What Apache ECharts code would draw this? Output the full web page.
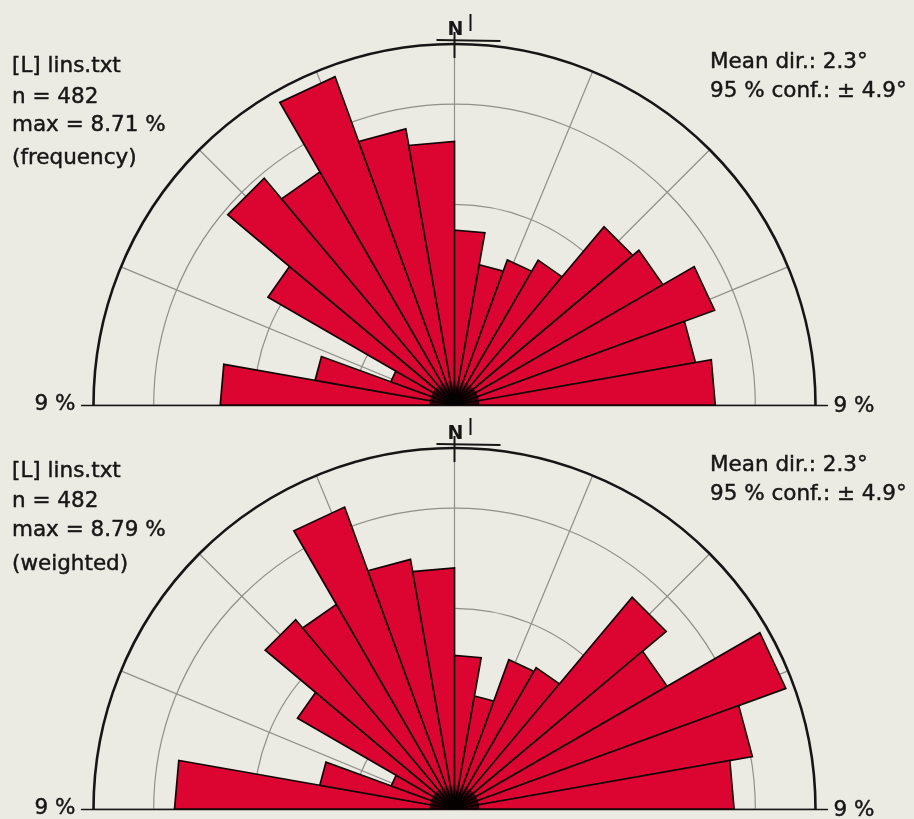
<!DOCTYPE html>
<html>
<head>
<meta charset="utf-8">
<title>lins.txt rose diagrams</title>
<script src="https://cdn.jsdelivr.net/npm/echarts@6/dist/echarts.min.js"></script>
<style>
  html, body { margin: 0; padding: 0; background: #ecebe3; }
  #chart { width: 914px; height: 819px; }
</style>
</head>
<body>
<div id="chart"></div>
<script>
// 10° direction bins, west (-90) through north (0) to east (+90): start of each bin
const binStarts = [-90, -80, -70, -60, -50, -40, -30, -20, -10,
                   0, 10, 20, 30, 40, 50, 60, 70, 80];
const binWidth = 10;

// percentage of lineations per bin, frequency rose
const frequencyPct = [5.84, 3.53, 1.69, 5.37, 7.38, 6.71, 8.71, 6.99, 6.57,
                      4.36, 3.55, 3.85, 4.17, 5.80, 6.00, 6.90, 6.10, 6.50];

// percentage per bin, length-weighted rose
const weightedPct = [6.98, 3.41, 1.68, 4.52, 6.16, 5.89, 8.01, 6.32, 6.01,
                     3.83, 2.86, 3.96, 4.07, 6.89, 6.12, 8.79, 7.54, 6.97];

// radial scale (percent) and grid spacing
const scaleMax = 9;
const ringStep = 2.5;
const spokeStep = 22.5;
const scaleLabel = '9 %';

// header texts
const headerFrequency = ['[L] lins.txt', 'n = 482', 'max = 8.71 %', '(frequency)'];
const headerWeighted = ['[L] lins.txt', 'n = 482', 'max = 8.79 %', '(weighted)'];
const statsText = ['Mean dir.: 2.3°', '95 % conf.: ± 4.9°'];

// ---- layout ----
const CX = 454.5;
const R = 361;
const FONT = '21.5px "DejaVu Sans"';
const INK = '#161616';
const BAR_RED = '#dc0431';
const GRID_GREY = '#8f8f8b';

const panels = [
  { cy: 405, values: frequencyPct, header: headerFrequency,
    headerY: [66, 97, 125, 158], statsY: [62, 91] },
  { cy: 809, values: weightedPct, header: headerWeighted,
    headerY: [471, 501, 530, 564], statsY: [465, 494] }
];

const polar = [], angleAxis = [], radiusAxis = [], series = [];
const grid = [], xAxis = [], yAxis = [], graphic = [];

// half-disc glyph for the dark hub where the wedge outlines meet
const hubPath = 'path://M0,10 A10,10 0 0 1 20,10 Z';

// each petal is a straight-ended wedge: centre -> (value, bin start) -> (value, bin end)
function renderPetal(params, api) {
  const r = api.value(0);
  const a0 = api.value(1);
  const a1 = api.value(2);
  const c = api.coord([0, a0]);
  const p0 = api.coord([r, a0]);
  const p1 = api.coord([r, a1]);
  return {
    type: 'polygon',
    shape: { points: [c, p0, p1] },
    style: { fill: BAR_RED, stroke: '#140606', lineWidth: 1.7, lineJoin: 'miter' }
  };
}

const textStyle = (text, align) => ({
  text, font: FONT, fill: INK, textAlign: align, textVerticalAlign: 'middle',
  stroke: INK, lineWidth: 0.45
});

panels.forEach((p, i) => {
  polar.push({ center: [CX, p.cy], radius: R });

  angleAxis.push({
    polarIndex: i, type: 'value', min: -90, max: 90, interval: spokeStep,
    startAngle: 180, endAngle: 0, clockwise: true,
    axisLine: { show: true, lineStyle: { color: INK, width: 2.6 } },
    axisTick: { show: false }, axisLabel: { show: false },
    splitLine: { show: true, lineStyle: { color: GRID_GREY, width: 1.2 } }
  });

  radiusAxis.push({
    polarIndex: i, type: 'value', min: 0, max: scaleMax, interval: ringStep,
    axisLine: { show: false }, axisTick: { show: false }, axisLabel: { show: false },
    splitLine: { show: true, lineStyle: { color: GRID_GREY, width: 1.2 } }
  });

  series.push({
    type: 'custom', coordinateSystem: 'polar', polarIndex: i,
    data: p.values.map((v, k) => [v, binStarts[k], binStarts[k] + binWidth]),
    encode: { radius: 0, angle: [1, 2] },
    renderItem: renderPetal,
    clip: false, silent: true, z: 3
  });
  series.push({
    type: 'scatter', coordinateSystem: 'polar', polarIndex: i,
    data: [[0, 0]],
    symbol: hubPath, symbolSize: [50, 25], symbolOffset: [0, -12.5],
    itemStyle: {
      color: {
        type: 'radial', x: 0.5, y: 1, r: 1,
        colorStops: [
          { offset: 0, color: 'rgba(0,0,0,1)' },
          { offset: 0.6, color: 'rgba(0,0,0,0.95)' },
          { offset: 1, color: 'rgba(0,0,0,0)' }
        ]
      }
    },
    silent: true, z: 4
  });

  // horizontal base line across the diameter, running a little past the rim
  const ext = 9.3;
  const half = R * ext / scaleMax;
  grid.push({ left: CX - half, width: half * 2, top: p.cy - 100, height: 100 });
  xAxis.push({
    gridIndex: i, type: 'value', min: -ext, max: ext,
    axisLine: { show: true, onZero: false, lineStyle: { color: INK, width: 1.3 } },
    axisTick: { show: false }, axisLabel: { show: false }, splitLine: { show: false }
  });
  yAxis.push({ gridIndex: i, type: 'value', show: false });

  // scale labels at both ends of the base line
  graphic.push({ type: 'text', x: CX - R - 18, y: p.cy - 1, style: textStyle(scaleLabel, 'right') });
  graphic.push({ type: 'text', x: CX + R + 18, y: p.cy + 1, style: textStyle(scaleLabel, 'left') });

  // header block on the left
  p.header.forEach((t, k) => {
    graphic.push({ type: 'text', x: 12, y: p.headerY[k], style: textStyle(t, 'left') });
  });
  // statistics block on the right
  statsText.forEach((t, k) => {
    graphic.push({ type: 'text', x: 710, y: p.statsY[k], style: textStyle(t, 'left') });
  });

  // north marker
  const top = p.cy - R;
  graphic.push({ type: 'line', shape: { x1: CX, y1: top - 12, x2: CX, y2: top + 14 },
    style: { stroke: INK, lineWidth: 2 }, z: 10 });
  graphic.push({ type: 'line', shape: { x1: CX - 18, y1: top - 4, x2: CX + 46, y2: top - 3 },
    style: { stroke: INK, lineWidth: 2 }, z: 10 });
  graphic.push({ type: 'text', x: CX + 1, y: top - 4,
    style: { text: 'N', font: 'bold 19px "DejaVu Sans"', fill: INK, textAlign: 'center', textVerticalAlign: 'bottom' }, z: 10 });
  graphic.push({ type: 'line', shape: { x1: CX + 16, y1: top - 30, x2: CX + 16, y2: top - 13 },
    style: { stroke: INK, lineWidth: 2 }, z: 10 });
});

const chart = echarts.init(document.getElementById('chart'), null, { renderer: 'canvas' });
chart.setOption({
  backgroundColor: '#ecebe3',
  animation: false,
  polar, angleAxis, radiusAxis, grid, xAxis, yAxis, series, graphic
});
</script>
</body>
</html>
